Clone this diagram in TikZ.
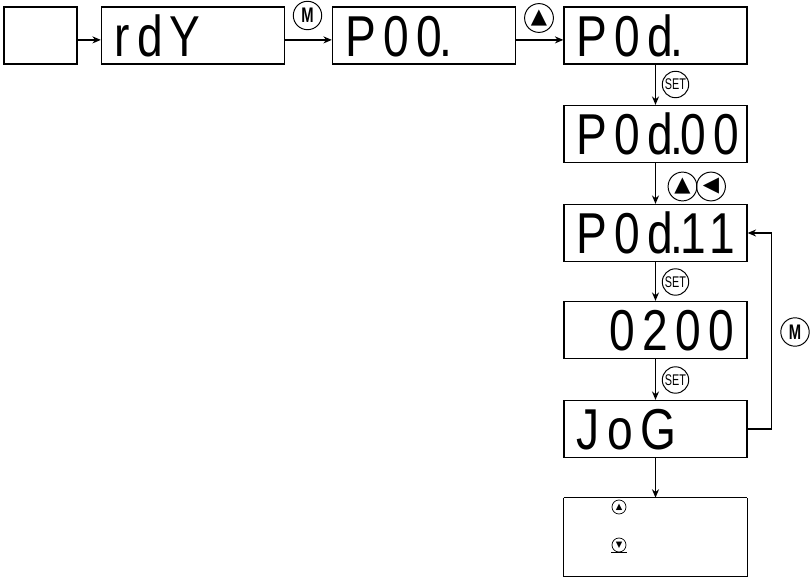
\documentclass[tikz,border=0pt]{standalone}
\usepackage{fontspec}
\usetikzlibrary{arrows.meta,positioning}
\newfontfamily\lcdfont[FakeStretch=0.8,LetterSpace=12.5]{Liberation Sans}
\newfontfamily\keyfont[FakeStretch=0.7]{Liberation Sans}
\newfontfamily\symfont{DejaVu Sans}
\newcommand{\segdot}{\kern0.06em\makebox[0pt]{.}\kern0.06em}

\begin{document}
\begin{tikzpicture}[
  x=0.025cm, y=-0.025cm,
  lcd/.style={draw, line width=0.9pt, minimum width=4.575cm, minimum height=1.425cm,
    inner xsep=0.325cm, inner ysep=0pt, text width=3.925cm, align=left,
    font=\lcdfont\fontsize{41}{41}\selectfont, text height=1.03cm, text depth=0pt},
  blank/.style={draw, line width=0.9pt, minimum width=1.825cm, minimum height=1.425cm},
  menu/.style={minimum width=4.575cm, minimum height=1.95cm},
  key/.style={circle, draw, line width=0.7pt, inner sep=0pt, minimum size=0.71cm,
    font=\keyfont\bfseries\fontsize{15}{15}\selectfont},
  setkey/.style={key, minimum size=0.66cm, font=\keyfont\fontsize{11}{11}\selectfont},
  tri/.style={key, minimum size=0.72cm, font=\symfont\fontsize{15}{15}\selectfont},
  mini/.style={circle, draw, line width=0.5pt, inner sep=0pt, minimum size=0.35cm,
    font=\symfont\fontsize{6}{6}\selectfont},
  flow/.style={-{Stealth[length=6pt,width=5pt]}, line width=0.9pt},
]
\useasboundingbox (0,0) rectangle (811,578);

\node[blank] (start) at (40.5,35.5) {};
\node[lcd] (rdy) at (193,35.5) {rdY};
\node[lcd] (p00) at (424,35.5) {P00\segdot};
\node[lcd] (p0d) at (655.5,35.5) {P0d\segdot};
\node[lcd] (p0d00) at (655.5,134) {P0d\segdot00};
\node[lcd] (p0d11) at (655.5,233) {P0d\segdot11};
\node[lcd, align=right] (speed) at (655.5,330) {0200};
\node[lcd] (jog) at (655.5,429) {JoG};
\node[menu] (run) at (655.5,537) {};

\draw[flow] ([yshift=-0.11cm]start.east) -- ([yshift=-0.11cm]rdy.west);
\draw[flow] ([yshift=-0.11cm]rdy.east) -- ([yshift=-0.11cm]p00.west);
\draw[flow] ([yshift=-0.11cm]p00.east) -- ([yshift=-0.11cm]p0d.west);
\draw[flow] (p0d.south) -- (p0d00.north);
\draw[flow] (p0d00.south) -- (p0d11.north);
\draw[flow] (p0d11.south) -- (speed.north);
\draw[flow] (speed.south) -- (jog.north);
\draw[flow] (jog.east) -- ++(24,0) |- (p0d11.east);
\draw[flow] (jog.south) -- (run.north);

\node[key] (mode1) at (307.5,15.5) {M};
\node[tri] (up1) at (539,18) {▲};
\node[setkey] (set1) at (675.5,84.5) {SET};
\node[tri] (up2) at (682.5,186.5) {▲};
\node[tri] (left) at (711,186.5) {◀};
\node[setkey] (set2) at (675.5,282) {SET};
\node[setkey] (set3) at (675.5,380) {SET};
\node[key] (mode2) at (795,332) {M};

\draw[line width=0.4pt] (run.north west) -- (run.north east);
\draw[line width=0.9pt] (run.north west) -- (run.south west) -- (run.south east) -- (run.north east);
\node[mini] (fwd) at (619,507) {▲};
\node[mini] (rev) at (619,545) {▼};
\draw[line width=0.5pt] ([xshift=-0.06cm,yshift=-0.05cm]rev.south west) -- ([xshift=0.06cm,yshift=-0.05cm]rev.south east);

\end{tikzpicture}
\end{document}
